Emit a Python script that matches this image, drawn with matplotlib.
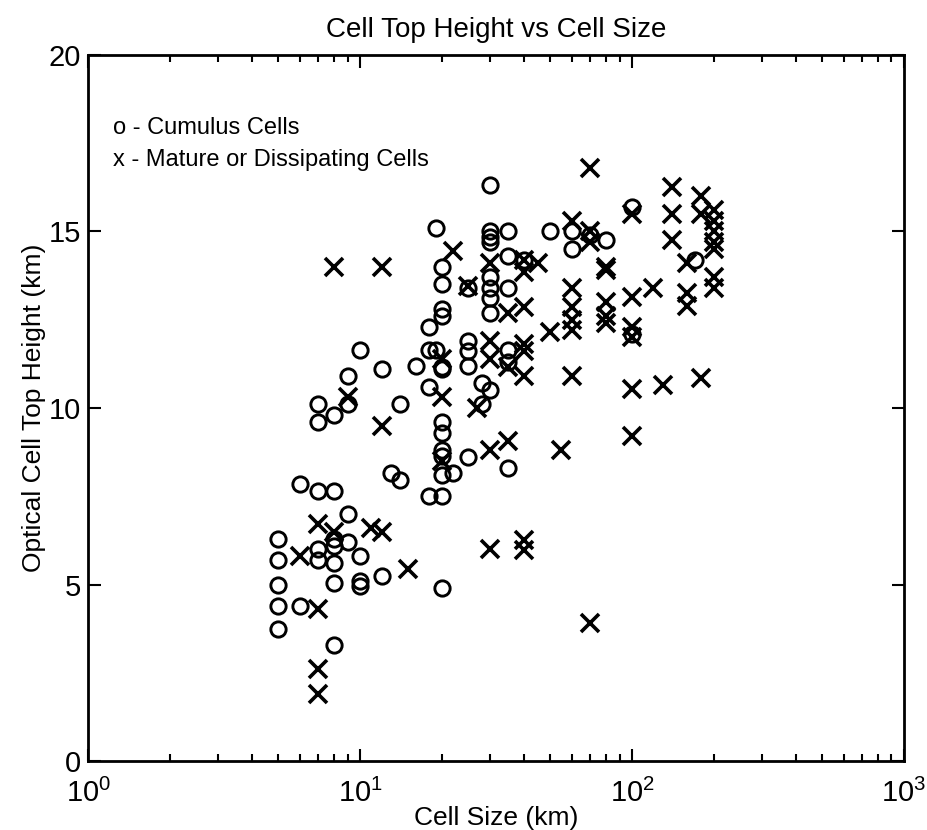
import matplotlib
matplotlib.use("Agg")
import matplotlib.pyplot as plt
from matplotlib.ticker import LogLocator, NullFormatter, FixedLocator

plt.rcParams["font.family"] = ["Liberation Sans", "DejaVu Sans"]

# Cumulus cells (circles): cell size (km), optical top height (km)
cu_size = [5, 5, 5, 5, 5,
           6, 6,
           7, 7, 7, 7, 7,
           8, 8, 8, 8, 8, 8, 8,
           9, 9, 9, 9,
           10, 10, 10, 10,
           12, 12, 13, 14, 14, 16,
           18, 18, 18, 18, 19, 19,
           20, 20, 20, 20, 20, 20, 20, 20, 20, 20, 20, 20, 20,
           22, 25, 25, 25, 25, 25, 28, 28,
           30, 30, 30, 30, 30, 30, 30, 30, 30,
           35, 35, 35, 35, 35, 35,
           40, 50, 60, 60, 70, 80, 100, 100, 170]
cu_height = [6.3, 5.7, 5.0, 4.4, 3.75,
             7.85, 4.4,
             10.1, 9.6, 7.65, 6.0, 5.7,
             9.8, 7.65, 6.3, 6.1, 5.6, 5.05, 3.3,
             10.9, 10.1, 7.0, 6.2,
             11.65, 5.8, 5.1, 4.95,
             11.1, 5.25, 8.15, 7.95, 10.1, 11.2,
             12.3, 11.65, 10.6, 7.5, 15.1, 11.65,
             14.0, 13.5, 12.8, 12.6, 11.15, 11.1, 9.6, 9.3, 8.8, 8.65, 8.1, 7.5, 4.9,
             8.15, 13.4, 11.9, 11.6, 11.2, 8.6, 10.7, 10.1,
             16.3, 15.0, 14.85, 14.7, 13.7, 13.4, 13.1, 12.7, 10.5,
             15.0, 14.3, 13.4, 11.65, 11.3, 8.3,
             14.2, 15.0, 15.0, 14.5, 14.9, 14.75, 15.7, 12.1, 14.2]

# Mature or dissipating cells (crosses)
md_size = [6, 7, 7, 7, 7, 8, 8, 9, 11, 12, 12, 12, 15,
           20, 20, 20, 22, 25, 27,
           30, 30, 30, 30, 30, 35, 35, 35,
           40, 40, 40, 40, 40, 40, 40, 40, 45, 50, 55,
           60, 60, 60, 60, 60, 60, 70, 70, 70, 70,
           80, 80, 80, 80, 80,
           100, 100, 100, 100, 100, 100, 120, 130,
           140, 140, 140, 160, 160, 160, 180, 180, 180,
           200, 200, 200, 200, 200, 200, 200]
md_height = [5.8, 6.7, 4.3, 2.6, 1.9, 14.0, 6.5, 10.3, 6.6, 14.0, 9.5, 6.5, 5.45,
             11.4, 10.3, 8.5, 14.45, 13.45, 10.0,
             14.1, 11.9, 11.4, 8.8, 6.0, 12.7, 11.15, 9.05,
             14.2, 13.85, 12.85, 11.8, 11.6, 10.9, 6.25, 5.98, 14.1, 12.15, 8.8,
             15.3, 13.4, 12.85, 12.5, 12.2, 10.9, 16.8, 15.0, 14.7, 3.9,
             14.0, 13.9, 13.0, 12.6, 12.4,
             15.5, 13.15, 12.3, 12.0, 10.55, 9.2, 13.4, 10.65,
             16.25, 15.5, 14.75, 14.1, 13.25, 12.9, 16.0, 15.5, 10.85,
             15.6, 15.3, 15.0, 14.7, 14.5, 13.7, 13.4]

legend_lines = ["o - Cumulus Cells", "x - Mature or Dissipating Cells"]

fig = plt.figure(figsize=(9.28, 8.3), dpi=100)
ax = fig.add_axes([0.095, 0.083, 0.879, 0.851])

ax.plot(cu_size, cu_height, linestyle="none", marker="o", markersize=11,
        markerfacecolor="none", markeredgecolor="black", markeredgewidth=2.1)
ax.plot(md_size, md_height, linestyle="none", marker="x", markersize=13,
        color="black", markeredgewidth=2.6)

ax.set_xscale("log")
ax.set_xlim(1, 1000)
ax.set_ylim(0, 20)
ax.yaxis.set_major_locator(FixedLocator([0, 5, 10, 15, 20]))
ax.xaxis.set_major_locator(LogLocator(base=10, numticks=10))
ax.xaxis.set_minor_locator(LogLocator(base=10, subs=range(2, 10), numticks=20))
ax.xaxis.set_minor_formatter(NullFormatter())

ax.tick_params(which="both", direction="in", top=True, right=True, width=1.5)
ax.tick_params(which="major", length=9, labelsize=21)
ax.tick_params(axis="x", which="major", pad=13)
ax.tick_params(axis="y", which="major", pad=5)
ax.tick_params(which="minor", length=5)
for s in ax.spines.values():
    s.set_linewidth(2)

ax.set_title("Cell Top Height vs Cell Size", fontsize=20, pad=13)
ax.set_xlabel("Cell Size (km)", fontsize=19, labelpad=-2)
ax.set_ylabel("Optical Cell Top Height (km)", fontsize=19, labelpad=2)

ax.text(0.03, 0.897, legend_lines[0], transform=ax.transAxes, fontsize=17, va="center")
ax.text(0.03, 0.851, legend_lines[1], transform=ax.transAxes, fontsize=17, va="center")

fig.savefig("out.png", dpi=100)
